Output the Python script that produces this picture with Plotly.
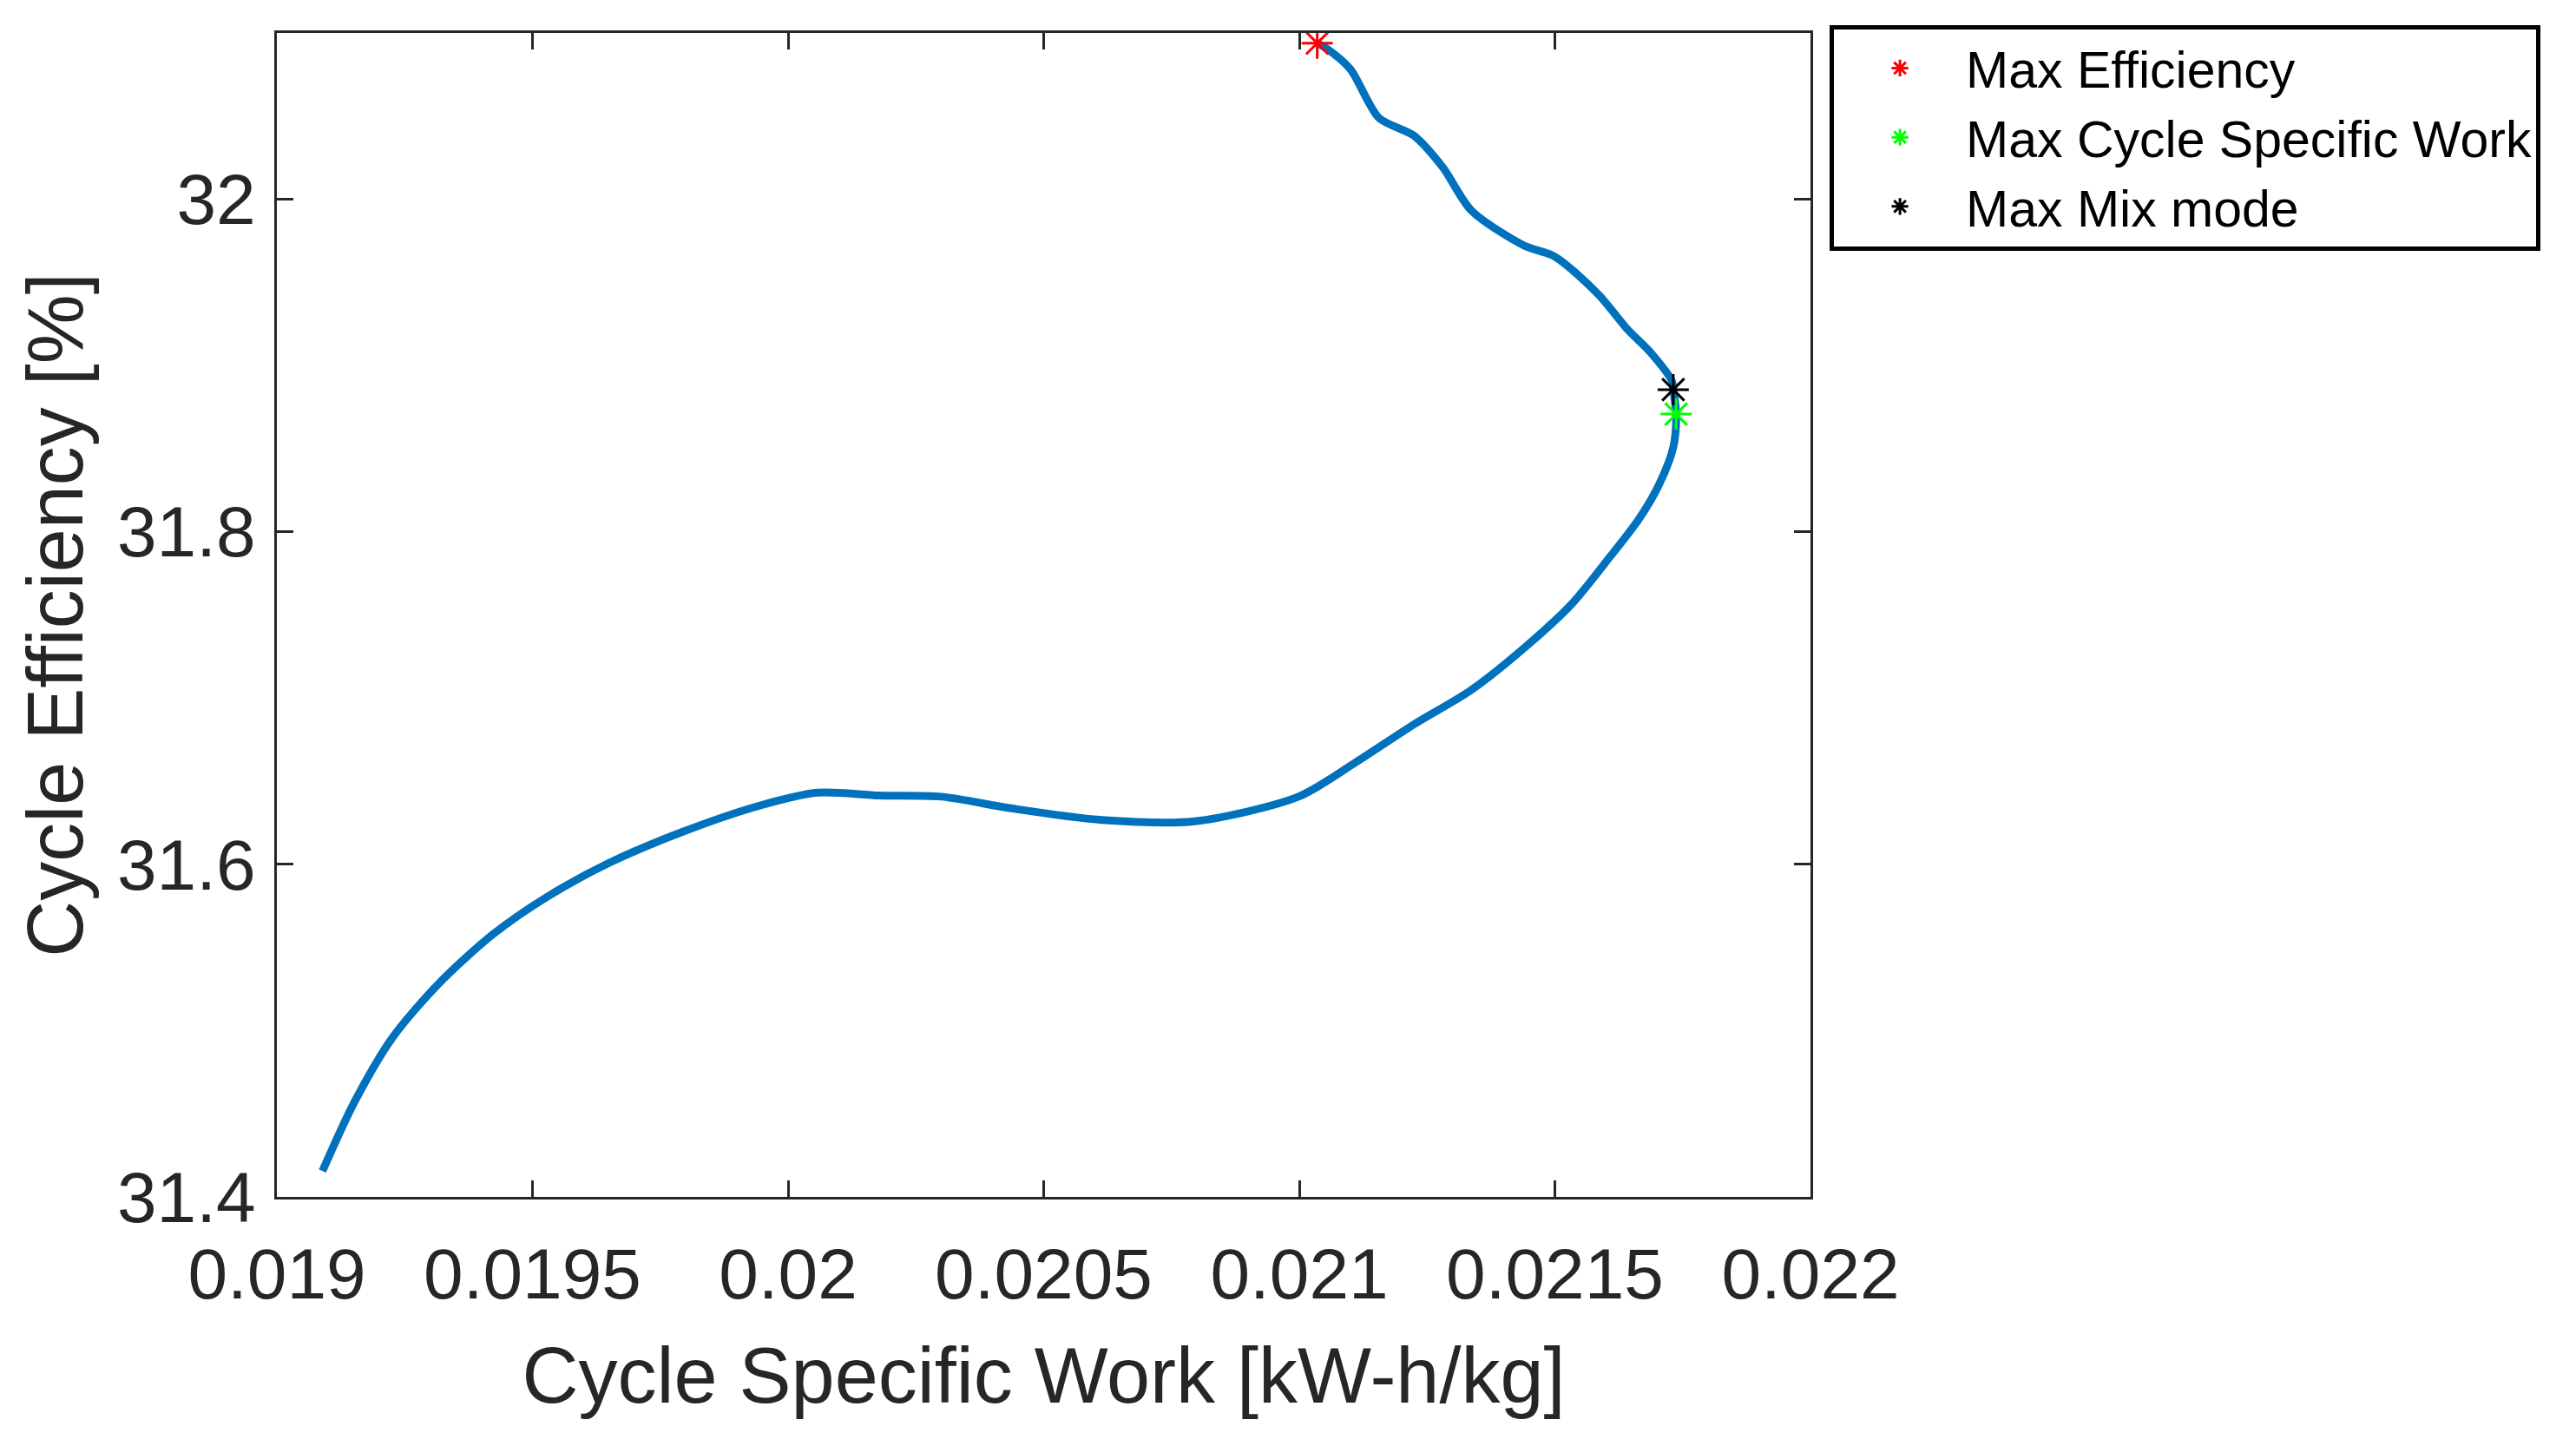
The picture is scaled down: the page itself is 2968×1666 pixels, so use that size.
import plotly.graph_objects as go

# cycle curve
specific_work = [0.0190892, 0.0191511, 0.0192266, 0.0193173, 0.0194230, 0.0195288, 0.0196496,
                 0.0197931, 0.0199442, 0.0200575, 0.0201783, 0.0203003, 0.0204364, 0.0206100,
                 0.0207951, 0.0209983, 0.0211112, 0.0212239, 0.0213367, 0.0214496, 0.0215342,
                 0.0216074, 0.0216638, 0.0217034, 0.0217315, 0.0217372, 0.0217315, 0.0217288,
                 0.0216864, 0.0216413, 0.0215849, 0.0215003, 0.0214382, 0.0213367, 0.0212804,
                 0.0212239, 0.0211562, 0.0210998, 0.0210547, 0.0210350]
efficiency = [31.4156, 31.4567, 31.4960, 31.5285, 31.5580, 31.5805, 31.6008,
              31.6195, 31.6353, 31.6431, 31.6414, 31.6407, 31.6337, 31.6268,
              31.6259, 31.6407, 31.6615, 31.6841, 31.7049, 31.7327, 31.7570,
              31.7848, 31.8074, 31.8282, 31.8508, 31.8708, 31.8855, 31.8907,
              31.9081, 31.9220, 31.9428, 31.9654, 31.9724, 31.9932, 32.0193,
              32.0383, 32.0488, 32.0783, 32.0904, 32.0939]

# highlighted points
point_names = ['Max Efficiency', 'Max Cycle Specific Work', 'Max Mix mode']
point_work = [0.0210350, 0.0217372, 0.0217315]
point_eff = [32.0939, 31.8708, 31.8855]
point_colors = ['#ff0000', '#00ff00', '#000000']

x_ticks = [0.019, 0.0195, 0.02, 0.0205, 0.021, 0.0215, 0.022]
x_labels = ['0.019', '0.0195', '0.02', '0.0205', '0.021', '0.0215', '0.022']
y_ticks = [31.4, 31.6, 31.8, 32.0]
y_labels = ['31.4', '31.6', '31.8', '32']

font_family = 'Liberation Sans, Arial, sans-serif'
ink = '#262626'

fig = go.Figure()
fig.add_trace(go.Scatter(x=specific_work, y=efficiency, mode='lines',
                         line=dict(color='#0072BD', width=9, shape='spline', smoothing=0.8),
                         showlegend=False))
for name, xw, ye, col in zip(point_names, point_work, point_eff, point_colors):
    fig.add_trace(go.Scatter(x=[xw], y=[ye], mode='markers', name=name,
                             marker=dict(symbol='asterisk-open', size=30, color=col,
                                         line=dict(color=col, width=3))))

fig.update_layout(
    width=2968, height=1666,
    margin=dict(l=311, r=890, t=30, b=295),
    paper_bgcolor='white', plot_bgcolor='white',
    font=dict(family=font_family, color=ink),
    legend=dict(x=1.0125, y=1.007, xanchor='left', yanchor='top',
                bordercolor='#000000', borderwidth=5, bgcolor='white',
                font=dict(size=59, color='#000000'), itemwidth=142,
                tracegroupgap=0),
)
fig.update_xaxes(range=[0.019, 0.022], tickvals=x_ticks, ticktext=x_labels,
                 ticks='inside', ticklen=19, tickwidth=3, tickcolor=ink,
                 showline=True, linecolor=ink, linewidth=3, mirror='ticks',
                 showgrid=False, zeroline=False, tickfont=dict(size=82, color=ink),
                 ticklabelstandoff=16,
                 title=dict(text='Cycle Specific Work [kW-h/kg]', font=dict(size=90, color=ink),
                            standoff=41))
fig.update_yaxes(range=[31.4, 32.1], tickvals=y_ticks, ticktext=y_labels,
                 ticks='inside', ticklen=19, tickwidth=3, tickcolor=ink,
                 showline=True, linecolor=ink, linewidth=3, mirror='ticks',
                 showgrid=False, zeroline=False, tickfont=dict(size=82, color=ink),
                 ticklabelstandoff=5,
                 title=dict(text='Cycle Efficiency [%]', font=dict(size=90, color=ink),
                            standoff=10))

fig.write_html('out.html')
